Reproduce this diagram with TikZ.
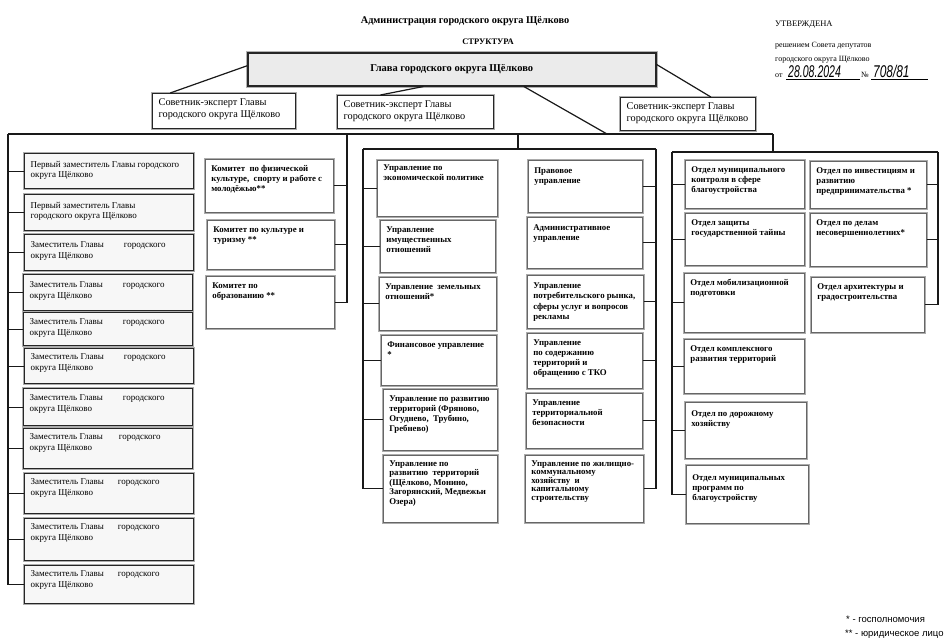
\documentclass[tikz,border=0pt]{standalone}
\usepackage{fontspec}
\usepackage{graphicx}
\setmainfont{Liberation Serif}
\newfontfamily\sansf{Liberation Sans}
\usetikzlibrary{calc}
\newcommand\obox[8]{%
  \node[#6, anchor=north west, inner xsep=0pt, inner ysep=0pt,
        minimum width=#4pt, minimum height=#5pt] (#1) at (#2,#3)
  {\kern5pt\parbox[t][#5pt][t]{\dimexpr#4pt-7pt\relax}{\raggedright\rule{0pt}{#7pt}#8}};%
}
\tikzset{
  zam/.style={draw=black!85, line width=1.3pt, fill=gray!6,
              preaction={draw=gray!65, line width=3pt},
              font=\fontsize{9}{10.5}\selectfont},
  sov/.style={draw=black!85, line width=1.3pt, fill=white,
              preaction={draw=gray!65, line width=3pt},
              font=\fontsize{10.3}{12}\selectfont},
  dep/.style={draw=black!60, line width=0.7pt, fill=white,
              preaction={draw=gray!65, line width=2.4pt},
              font=\bfseries\fontsize{8.8}{10}\selectfont},
  glv/.style={draw=black!85, line width=1.5pt, fill=gray!16,
              preaction={draw=gray!60, line width=3.6pt},
              font=\bfseries\fontsize{10.5}{12}\selectfont},
  conn/.style={draw=black!90, line width=1.2pt},
  plain/.style={inner sep=0pt, anchor=base west}
}
\newcommand\zgap{\hspace{20pt}}
\begin{document}
\begin{tikzpicture}[x=1pt,y=-1pt]
\useasboundingbox[fill=white] (0,0) rectangle (950,640);

% header
\node[font=\bfseries\fontsize{10.3}{12}\selectfont, inner sep=0pt] (title) at (465,21) {Администрация городского округа Щёлково};
\node[font=\bfseries\fontsize{8.5}{10}\selectfont, inner sep=0pt] (struct) at (488,42) {СТРУКТУРА};
\node[plain, font=\fontsize{8.5}{10}\selectfont] (utv) at (775,26) {УТВЕРЖДЕНА};
\node[plain, font=\fontsize{8}{10}\selectfont] (resh) at (775,47) {решением Совета депутатов};
\node[plain, font=\fontsize{8}{10}\selectfont] (gor) at (775,61) {городского округа Щёлково};
\node[plain, font=\fontsize{8}{10}\selectfont] (ot) at (775,77) {от};
\node[plain, font=\sansf\itshape\fontsize{17}{17}\selectfont] (date) at (788,77) {\scalebox{0.62}[1]{28.08.2024}};
\node[plain, font=\fontsize{8}{10}\selectfont] (num) at (861,77) {№};
\node[plain, font=\sansf\itshape\fontsize{17}{17}\selectfont] (numv) at (873,77) {\scalebox{0.7}[1]{708/81}};
\draw[line width=0.5pt] (786,79.5) -- (860,79.5);
\draw[line width=0.5pt] (871,79.5) -- (928,79.5);

% head
\node[glv, anchor=north west, minimum width=408pt, minimum height=33pt, inner sep=0pt] (glava) at (247,52) {\raisebox{-3pt}{Глава городского округа Щёлково}};

% advisers
\obox{s1}{152}{93}{143}{35}{sov}{12}{Советник-эксперт Главы\\городского округа Щёлково}
\obox{s2}{337}{95}{156}{33}{sov}{12}{Советник-эксперт Главы\\городского округа Щёлково}
\obox{s3}{620}{97}{135}{33}{sov}{12}{Советник-эксперт Главы\\городского округа Щёлково}

% left column
\obox{L1}{24}{153}{169}{35}{zam}{13.5}{Первый заместитель Главы городского\\округа Щёлково}
\obox{L2}{24}{194}{169}{36}{zam}{13.5}{Первый заместитель Главы\\городского округа Щёлково}
\obox{L3}{24}{234}{169}{36}{zam}{13}{Заместитель Главы\zgap городского\\округа Щёлково}
\obox{L4}{23}{274}{169}{36}{zam}{13}{Заместитель Главы\zgap городского\\округа Щёлково}
\obox{L5}{23}{312}{169}{33}{zam}{12}{Заместитель Главы\zgap городского\\округа Щёлково}
\obox{L6}{24}{348}{169}{35}{zam}{11}{Заместитель Главы\zgap городского\\округа Щёлково}
\obox{L7}{23}{388}{169}{37}{zam}{12}{Заместитель Главы\zgap городского\\округа Щёлково}
\obox{L8}{23}{428}{169}{40}{zam}{11}{Заместитель Главы\hspace{16pt}городского\\округа Щёлково}
\obox{L9}{24}{473}{169}{40}{zam}{11}{Заместитель Главы\hspace{14pt}городского\\округа Щёлково}
\obox{L10}{24}{518}{169}{42}{zam}{11}{Заместитель Главы\hspace{14pt}городского\\округа Щёлково}
\obox{L11}{24}{565}{169}{38}{zam}{11}{Заместитель Главы\hspace{14pt}городского\\округа Щёлково}

% committees
\obox{K1}{205}{159}{128}{53}{dep}{12}{Комитет\ \ по физической\\культуре,\ \ спорту и работе с\\молодёжью**}
\obox{K2}{207}{220}{127}{49}{dep}{12}{Комитет по культуре и\\туризму **}
\obox{K3}{206}{276}{128}{52}{dep}{12}{Комитет по\\образованию **}

% middle block, left
\obox{U1}{377}{160}{120}{56}{dep}{10}{Управление по\\экономической политике}
\obox{U2}{380}{220}{115}{52}{dep}{12}{Управление\\имущественных\\отношений}
\obox{U3}{379}{277}{117}{53}{dep}{12}{Управление\ \ земельных\\отношений*}
\obox{U4}{381}{335}{115}{50}{dep}{12}{Финансовое управление\\**}
\obox{U5}{383}{389}{114}{61}{dep}{12}{Управление по развитию\\территорий (Фряново,\\Огуднево,\ \ Трубино,\\Гребнево)}
\obox{U6}{383}{455}{114}{67}{dep}{11}{\baselineskip=9.5pt Управление по\\развитию\ \ территорий\\(Щёлково, Монино,\\Загорянский, Медвежьи\\Озера)}

% middle block, right
\obox{P1}{528}{160}{114}{52}{dep}{13}{Правовое\\управление}
\obox{P2}{527}{217}{115}{51}{dep}{13}{Административное\\управление}
\obox{P3}{527}{275}{116}{53}{dep}{13}{\baselineskip=10.5pt Управление\\потребительского рынка,\\сферы услуг и вопросов\\рекламы}
\obox{P4}{527}{333}{115}{55}{dep}{12}{Управление\\по содержанию\\территорий и\\обращению с ТКО}
\obox{P5}{526}{393}{116}{55}{dep}{12}{Управление\\территориальной\\безопасности}
\obox{P6}{525}{455}{118}{67}{dep}{11}{\baselineskip=8.5pt Управление по жилищно-\\коммунальному\\хозяйству\ \ и\\капитальному\\строительству}

% right block
\obox{O1}{685}{160}{119}{48}{dep}{12}{Отдел муниципального\\контроля в сфере\\благоустройства}
\obox{O2}{685}{213}{119}{52}{dep}{12}{Отдел защиты\\государственной тайны}
\obox{O3}{684}{273}{120}{59}{dep}{12}{Отдел мобилизационной\\подготовки}
\obox{O4}{684}{339}{120}{54}{dep}{12}{Отдел комплексного\\развития территорий}
\obox{O5}{685}{402}{121}{56}{dep}{14}{Отдел по дорожному\\хозяйству}
\obox{O6}{686}{465}{122}{58}{dep}{15}{Отдел муниципальных\\программ по\\благоустройству}
\obox{R1}{810}{161}{116}{47}{dep}{12}{Отдел по инвестициям и\\развитию\\предпринимательства *}
\obox{R2}{810}{213}{116}{53}{dep}{12}{Отдел по делам\\несовершеннолетних*}
\obox{R3}{811}{277}{113}{55}{dep}{12}{Отдел архитектуры и\\градостроительства}

% footnotes
\node[plain, font=\sansf\fontsize{9.5}{11}\selectfont] (fn1) at (846,622) {* - госполномочия};
\node[plain, font=\sansf\fontsize{9.5}{11}\selectfont] (fn2) at (845,636) {** - юридическое лицо};

% connectors from head
\coordinate (busL) at (8,134);
\coordinate (busR) at (773,134);
\coordinate (busG) at (607,134);
\coordinate (kb) at (347,134);
\coordinate (mt) at (518,134);
\coordinate (mL) at (363,149);
\coordinate (mR) at (656,149);
\coordinate (rL) at (672,152);
\coordinate (rR) at (938,152);

\draw[conn] ($(glava.north west)!0.4!(glava.south west)$) -- ($(s1.north west)!0.126!(s1.north east)$);
\draw[conn] ($(glava.south west)!0.431!(glava.south east)$) -- ($(s2.north west)!0.276!(s2.north east)$);
\draw[conn] ($(glava.north east)!0.36!(glava.south east)$) -- ($(s3.north west)!0.667!(s3.north east)$);
\draw[conn] ($(glava.south west)!0.676!(glava.south east)$) -- (busG);

% main bus
\draw[conn] (busL) -- (busR);
\draw[conn] (busL) |- (L11.west);
\foreach \n in {L1,L2,L3,L4,L5,L6,L7,L8,L9,L10}
  \draw[conn] (\n.west) -- (\n.west -| busL);

% committees
\draw[conn] (kb) |- (K3.east);
\foreach \n in {K1,K2}
  \draw[conn] (\n.east) -- (\n.east -| kb);

% middle frame
\draw[conn] (mt) -- (mt |- mL);
\draw[conn] (mL) -- (mR);
\draw[conn] (mL) |- (U6.west);
\draw[conn] (mR) |- (P6.east);
\foreach \n in {U1,U2,U3,U4,U5}
  \draw[conn] (\n.west) -- (\n.west -| mL);
\foreach \n in {P1,P2,P3,P4,P5}
  \draw[conn] (\n.east) -- (\n.east -| mR);

% right frame
\draw[conn] (busR) -- (busR |- rL);
\draw[conn] (rL) -- (rR);
\draw[conn] (rL) |- (O6.west);
\draw[conn] (rR) |- (R3.east);
\foreach \n in {O1,O2,O3,O4,O5}
  \draw[conn] (\n.west) -- (\n.west -| rL);
\foreach \n in {R1,R2}
  \draw[conn] (\n.east) -- (\n.east -| rR);
\end{tikzpicture}
\end{document}
